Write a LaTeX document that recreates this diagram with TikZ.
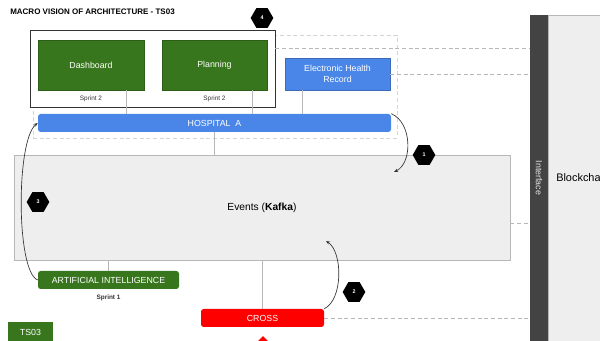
\documentclass[tikz,border=0pt]{standalone}
\usepackage{fontspec}
\setmainfont{Liberation Sans}
\usepackage{tikz}
\usetikzlibrary{shapes.geometric,arrows.meta}

\definecolor{gGreen}{HTML}{38761D}
\definecolor{gBlue}{HTML}{4A86E8}
\definecolor{gRed}{HTML}{FF0000}
\definecolor{gLight}{HTML}{EEEEEE}
\definecolor{gDark}{HTML}{434343}
\definecolor{gLine}{HTML}{B7B7B7}

\tikzset{
  greenbox/.style={fill=gGreen,draw=gGreen!80!black,text=white,inner sep=0pt,font=\fontsize{6.6}{8}\selectfont},
  bluebox/.style={fill=gBlue,draw=gBlue!80!black,text=white,inner sep=0pt,font=\fontsize{6.6}{8}\selectfont,align=center},
  bar/.style={rounded corners=2pt,inner sep=0pt,font=\fontsize{6.6}{8}\selectfont,text=white},
  sprint/.style={inner sep=0pt,font=\fontsize{4.8}{6}\selectfont,text=black!80},
  hexa/.style={regular polygon,regular polygon sides=6,fill=black,text=white,minimum size=17pt,inner sep=0pt,font=\fontsize{4}{5}\selectfont\bfseries},
  link/.style={draw=gLine,line width=0.6pt},
  dashlink/.style={draw=gLine,dashed,dash pattern=on 3pt off 2pt,line width=0.6pt},
  flow/.style={draw=black!80,line width=0.5pt,-{Stealth[length=3pt,width=2.5pt]}}
}

\begin{document}
\begin{tikzpicture}[x=0.75pt,y=0.75pt,yscale=-1,xscale=1]
\useasboundingbox (0,0) rectangle (600,341);

% Title
\node (title) [anchor=west,inner sep=0pt,font=\fontsize{6}{7}\selectfont\bfseries] at (10,12) {MACRO VISION OF ARCHITECTURE - TS03};

% Dashed frame and front box
\node (frame) [draw=gLine!60,dashed,dash pattern=on 3pt off 2pt,minimum width=273pt,minimum height=77.25pt,inner sep=0pt] at (215,86.5) {};
\node (front) [draw=black!80,fill=white,line width=0.6pt,minimum width=183.75pt,minimum height=57.75pt,inner sep=0pt] at (152.5,68.5) {};

% Green boxes
\node (dash) [greenbox,minimum width=79.5pt,minimum height=37.5pt] at (91,65) {Dashboard};
\node (plan) [greenbox,minimum width=78.75pt,minimum height=37.5pt] at (214.5,65) {Planning};
\node (sp1) [sprint] at (91,99) {Sprint 2};
\node (sp2) [sprint] at (214.5,99) {Sprint 2};

% EHR
\node (ehr) [bluebox,minimum width=78.75pt,minimum height=24pt] at (337.5,74) {Electronic Health\\Record};

% Hospital
\node (hosp) [bar,fill=gBlue,minimum width=264.75pt,minimum height=13.5pt] at (214.5,123) {HOSPITAL\ \ A};

% Events
\node (events) [fill=gLight,draw=gLine,line width=0.6pt,minimum width=372pt,minimum height=78.75pt,inner sep=0pt,font=\fontsize{7.7}{9}\selectfont] at (262,207.5) {Events (\textbf{Kafka})};

% AI and Cross
\node (ai) [bar,fill=gGreen,minimum width=105.75pt,minimum height=13.5pt] at (108.5,280) {ARTIFICIAL INTELLIGENCE};
\node (sp3) [sprint,font=\fontsize{4.8}{6}\selectfont\bfseries] at (108.5,298) {Sprint 1};
\node (cross) [bar,fill=gRed,minimum width=92.25pt,minimum height=13.5pt] at (262.5,318) {CROSS};
\node (tag) [fill=gGreen,text=white,inner sep=0pt,minimum width=33.75pt,minimum height=15pt,font=\fontsize{6.6}{8}\selectfont] at (30.5,332) {TS03};
\node (crossmark) [diamond,fill=gRed,minimum size=24pt,inner sep=0pt] at (263,352) {};

% Interface and Blockchain
\node (chain) [fill=gLight,draw=gLine,line width=1pt,minimum width=60pt,minimum height=250pt,inner sep=0pt] at (588,182) {};
\node (chaintxt) [anchor=west,inner sep=0pt,font=\fontsize{8.2}{10}\selectfont] at (556,178) {Blockchain};
\node (iface) [fill=gDark,minimum width=13.5pt,minimum height=246pt,inner sep=0pt] at (539,179) {};
\node (ifacetxt) [rotate=-90,text=white!90!black,inner sep=0pt,font=\fontsize{6.6}{8}\selectfont] at (539,178) {Interface};

% Solid links
\draw[link] (dash.south -| 126,0) -- (hosp.north -| 126,0);
\draw[link] (plan.south -| 252,0) -- (hosp.north -| 252,0);
\draw[link] (ehr.south -| 302,0) -- (hosp.north -| 302,0);
\draw[link] (hosp.south) -- (events.north -| hosp.south);
\draw[link] (ai.north) -- (events.south -| ai.north);
\draw[link] (cross.north) -- (events.south -| cross.north);

% Dashed links to interface
\draw[dashlink] (front.east |- 0,48) -- (iface.west |- 0,48);
\draw[dashlink] (ehr.east) -- (iface.west |- ehr.east);
\draw[dashlink] (events.east |- 0,223) -- (iface.west |- 0,223);
\draw[dashlink] (cross.east) -- (iface.west |- cross.east);

% Flow arrows
\coordinate (in1) at (394,172);
\coordinate (in2) at (326,241);
\draw[flow] (hosp.north east) .. controls (412,122) and (413,163) .. (in1);
\draw[flow] (cross.north east) .. controls (343,300) and (343,252) .. (in2);
\draw[flow] (ai.west) .. controls (16,272) and (16,140) .. (hosp.west);

% Step markers
\node (h1) [hexa] at (424,155) {1};
\node (h2) [hexa] at (354,292) {2};
\node (h3) [hexa] at (38,202) {3};
\node (h4) [hexa] at (262,18) {4};

\end{tikzpicture}
\end{document}
